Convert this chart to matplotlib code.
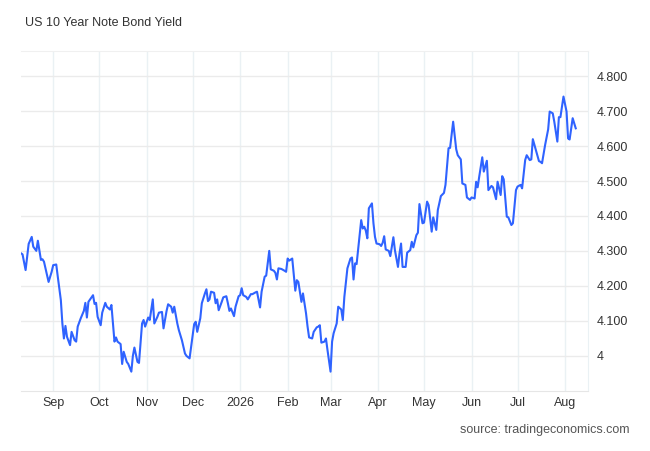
import matplotlib
matplotlib.use("Agg")
import matplotlib.pyplot as plt
import pandas as pd

# daily yield
dates = [
    "2025-08-11", "2025-08-12", "2025-08-14", "2025-08-16", "2025-08-18", "2025-08-19", "2025-08-21", "2025-08-22",
    "2025-08-24", "2025-08-25", "2025-08-26", "2025-08-29", "2025-08-31",
    "2025-09-01", "2025-09-03", "2025-09-04", "2025-09-06", "2025-09-07", "2025-09-08", "2025-09-09", "2025-09-10",
    "2025-09-12", "2025-09-13", "2025-09-15", "2025-09-16", "2025-09-17", "2025-09-19", "2025-09-21", "2025-09-22",
    "2025-09-23", "2025-09-24", "2025-09-26", "2025-09-27", "2025-09-28", "2025-09-29", "2025-09-30",
    "2025-10-02", "2025-10-03", "2025-10-05", "2025-10-06", "2025-10-08", "2025-10-09", "2025-10-11", "2025-10-12",
    "2025-10-13", "2025-10-15", "2025-10-16", "2025-10-17", "2025-10-19", "2025-10-20", "2025-10-22", "2025-10-23",
    "2025-10-24", "2025-10-26", "2025-10-27", "2025-10-29", "2025-10-30", "2025-10-31",
    "2025-11-02", "2025-11-03", "2025-11-05", "2025-11-06", "2025-11-08", "2025-11-09", "2025-11-11", "2025-11-12",
    "2025-11-14", "2025-11-15", "2025-11-17", "2025-11-18", "2025-11-19", "2025-11-21", "2025-11-22", "2025-11-24",
    "2025-11-26", "2025-11-27", "2025-11-29", "2025-11-30",
    "2025-12-02", "2025-12-03", "2025-12-04", "2025-12-06", "2025-12-07", "2025-12-09", "2025-12-10", "2025-12-11",
    "2025-12-12", "2025-12-13", "2025-12-15", "2025-12-16", "2025-12-17", "2025-12-18", "2025-12-20", "2025-12-21",
    "2025-12-23", "2025-12-24", "2025-12-25", "2025-12-26", "2025-12-28", "2025-12-29", "2025-12-31",
    "2026-01-01", "2026-01-02", "2026-01-03", "2026-01-05", "2026-01-06", "2026-01-08", "2026-01-09", "2026-01-11",
    "2026-01-12", "2026-01-14", "2026-01-15", "2026-01-17", "2026-01-18", "2026-01-20", "2026-01-21", "2026-01-23",
    "2026-01-24", "2026-01-25", "2026-01-26", "2026-01-28", "2026-01-30", "2026-01-31",
    "2026-02-01", "2026-02-02", "2026-02-04", "2026-02-06", "2026-02-07", "2026-02-08", "2026-02-10", "2026-02-11",
    "2026-02-13", "2026-02-14", "2026-02-15", "2026-02-17", "2026-02-18", "2026-02-20", "2026-02-21", "2026-02-22",
    "2026-02-23", "2026-02-25", "2026-02-26", "2026-02-27",
    "2026-03-01", "2026-03-02", "2026-03-03", "2026-03-05", "2026-03-06", "2026-03-08", "2026-03-09", "2026-03-10",
    "2026-03-12", "2026-03-14", "2026-03-15", "2026-03-16", "2026-03-17", "2026-03-18", "2026-03-21", "2026-03-22",
    "2026-03-23", "2026-03-24", "2026-03-25", "2026-03-26", "2026-03-28", "2026-03-29", "2026-03-30", "2026-03-31",
    "2026-04-02", "2026-04-03", "2026-04-04", "2026-04-05", "2026-04-06", "2026-04-08", "2026-04-09", "2026-04-11",
    "2026-04-12", "2026-04-14", "2026-04-15", "2026-04-16", "2026-04-17", "2026-04-19", "2026-04-20", "2026-04-22",
    "2026-04-23", "2026-04-24", "2026-04-26", "2026-04-27", "2026-04-28", "2026-04-30",
    "2026-05-01", "2026-05-03", "2026-05-04", "2026-05-06", "2026-05-07", "2026-05-09", "2026-05-10", "2026-05-12",
    "2026-05-14", "2026-05-15", "2026-05-17", "2026-05-18", "2026-05-20", "2026-05-22", "2026-05-23", "2026-05-25",
    "2026-05-26", "2026-05-28", "2026-05-29", "2026-05-31",
    "2026-06-01", "2026-06-03", "2026-06-04", "2026-06-05", "2026-06-06", "2026-06-08", "2026-06-09", "2026-06-11",
    "2026-06-12", "2026-06-14", "2026-06-15", "2026-06-17", "2026-06-18", "2026-06-20", "2026-06-21", "2026-06-22",
    "2026-06-24", "2026-06-25", "2026-06-27", "2026-06-28", "2026-06-30",
    "2026-07-01", "2026-07-03", "2026-07-04", "2026-07-06", "2026-07-07", "2026-07-09", "2026-07-10", "2026-07-11",
    "2026-07-13", "2026-07-15", "2026-07-16", "2026-07-17", "2026-07-19", "2026-07-21", "2026-07-22", "2026-07-24",
    "2026-07-25", "2026-07-27", "2026-07-28", "2026-07-29", "2026-07-31",
    "2026-08-02", "2026-08-03", "2026-08-04", "2026-08-06", "2026-08-07", "2026-08-08",
]

yields = [
    4.293, 4.290, 4.245, 4.320, 4.340, 4.312, 4.300, 4.329,
    4.274, 4.276, 4.269, 4.211, 4.240,
    4.259, 4.261, 4.226, 4.159, 4.092, 4.049, 4.085, 4.054,
    4.030, 4.068, 4.044, 4.040, 4.083, 4.107, 4.128, 4.151,
    4.109, 4.154, 4.167, 4.173, 4.148, 4.151, 4.111,
    4.087, 4.123, 4.151, 4.140, 4.132, 4.145, 4.040, 4.052,
    4.040, 4.033, 3.976, 4.011, 3.982, 3.976, 3.954, 3.999,
    4.023, 3.982, 3.979, 4.092, 4.102, 4.083,
    4.109, 4.102, 4.161, 4.092, 4.111, 4.123, 4.125, 4.078,
    4.128, 4.147, 4.140, 4.123, 4.140, 4.092, 4.073, 4.044,
    4.006, 3.999, 3.992, 4.025,
    4.090, 4.097, 4.068, 4.107, 4.150, 4.178, 4.190, 4.156,
    4.161, 4.183, 4.180, 4.150, 4.161, 4.130, 4.154, 4.167,
    4.170, 4.150, 4.128, 4.135, 4.113, 4.140, 4.170,
    4.173, 4.193, 4.173, 4.168, 4.161, 4.176, 4.176, 4.181,
    4.183, 4.138, 4.183, 4.226, 4.229, 4.300, 4.247, 4.243,
    4.237, 4.218, 4.250, 4.248, 4.243, 4.240,
    4.278, 4.272, 4.278, 4.186, 4.216, 4.211, 4.154, 4.178,
    4.121, 4.083, 4.052, 4.049, 4.068, 4.081, 4.083, 4.087,
    4.037, 4.040, 4.049, 4.016,
    3.954, 4.040, 4.064, 4.092, 4.140, 4.132, 4.102, 4.168,
    4.250, 4.278, 4.281, 4.218, 4.264, 4.262, 4.388, 4.364,
    4.369, 4.358, 4.336, 4.422, 4.436, 4.379, 4.340, 4.321,
    4.319, 4.314, 4.323, 4.342, 4.304, 4.300, 4.285, 4.339,
    4.302, 4.254, 4.293, 4.321, 4.254, 4.254, 4.295, 4.302,
    4.326, 4.310, 4.345, 4.352, 4.434, 4.379,
    4.381, 4.441, 4.431, 4.355, 4.396, 4.360, 4.417, 4.457,
    4.466, 4.489, 4.594, 4.595, 4.670, 4.591, 4.574, 4.562,
    4.493, 4.489, 4.453, 4.446,
    4.453, 4.450, 4.498, 4.482, 4.512, 4.568, 4.527, 4.558,
    4.474, 4.486, 4.482, 4.448, 4.498, 4.460, 4.514, 4.505,
    4.398, 4.396, 4.374, 4.379, 4.474,
    4.484, 4.489, 4.479, 4.560, 4.574, 4.560, 4.562, 4.620,
    4.589, 4.557, 4.555, 4.551, 4.603, 4.648, 4.699, 4.694,
    4.670, 4.613, 4.683, 4.683, 4.742,
    4.699, 4.622, 4.619, 4.680, 4.665, 4.651,
]

month_ticks = ["2025-09-01", "2025-10-01", "2025-11-01", "2025-12-01", "2026-01-01", "2026-02-01",
               "2026-03-01", "2026-04-01", "2026-05-01", "2026-06-01", "2026-07-01", "2026-08-01"]
month_labels = ["Sep", "Oct", "Nov", "Dec", "2026", "Feb", "Mar", "Apr", "May", "Jun", "Jul", "Aug"]

y_ticks = [4.0, 4.1, 4.2, 4.3, 4.4, 4.5, 4.6, 4.7, 4.8]
y_labels = ["4", "4.100", "4.200", "4.300", "4.400", "4.500", "4.600", "4.700", "4.800"]

plt.rcParams["font.family"] = ["Liberation Sans", "DejaVu Sans"]

x = pd.to_datetime(dates)

fig = plt.figure(figsize=(6.5, 4.51), dpi=100)
ax = fig.add_axes([21 / 650, 1 - 390.5 / 451, (588 - 21) / 650, (390.5 - 51) / 451])

ax.plot(x, yields, color="#2f63ff", linewidth=1.5, solid_joinstyle="round")

ax.set_xlim(pd.Timestamp("2025-08-11"), pd.Timestamp("2026-08-16"))
ax.set_ylim(3.9, 4.8725)

ax.set_xticks(pd.to_datetime(month_ticks))
ax.set_xticklabels(month_labels)
ax.set_yticks(y_ticks)
ax.set_yticklabels(y_labels)
ax.yaxis.tick_right()
ax.tick_params(axis="both", length=0, labelsize=9, colors="#333333")
ax.tick_params(axis="y", pad=6)
ax.tick_params(axis="x", pad=5)

# light grid, vertical lines a bit bluish like the original
ax.grid(axis="y", color="#ebebeb", linewidth=1.0)
ax.grid(axis="x", color="#eaf1f4", linewidth=1.0)
ax.set_axisbelow(True)

for side in ["left", "top"]:
    ax.spines[side].set_visible(False)
ax.spines["bottom"].set_color("#e6e6e6")
ax.spines["right"].set_color("#eaf1f4")
ax.spines["top"].set_visible(True)
ax.spines["top"].set_color("#f0f0f0")

fig.text(25 / 650, 1 - 23 / 451, "US 10 Year Note Bond Yield", fontsize=9, color="#333333", va="center", ha="left")
fig.text(630 / 650, 1 - 430 / 451, "source: tradingeconomics.com", fontsize=9, color="#555555", va="center", ha="right")

fig.savefig("out.png", dpi=100, facecolor="white")
